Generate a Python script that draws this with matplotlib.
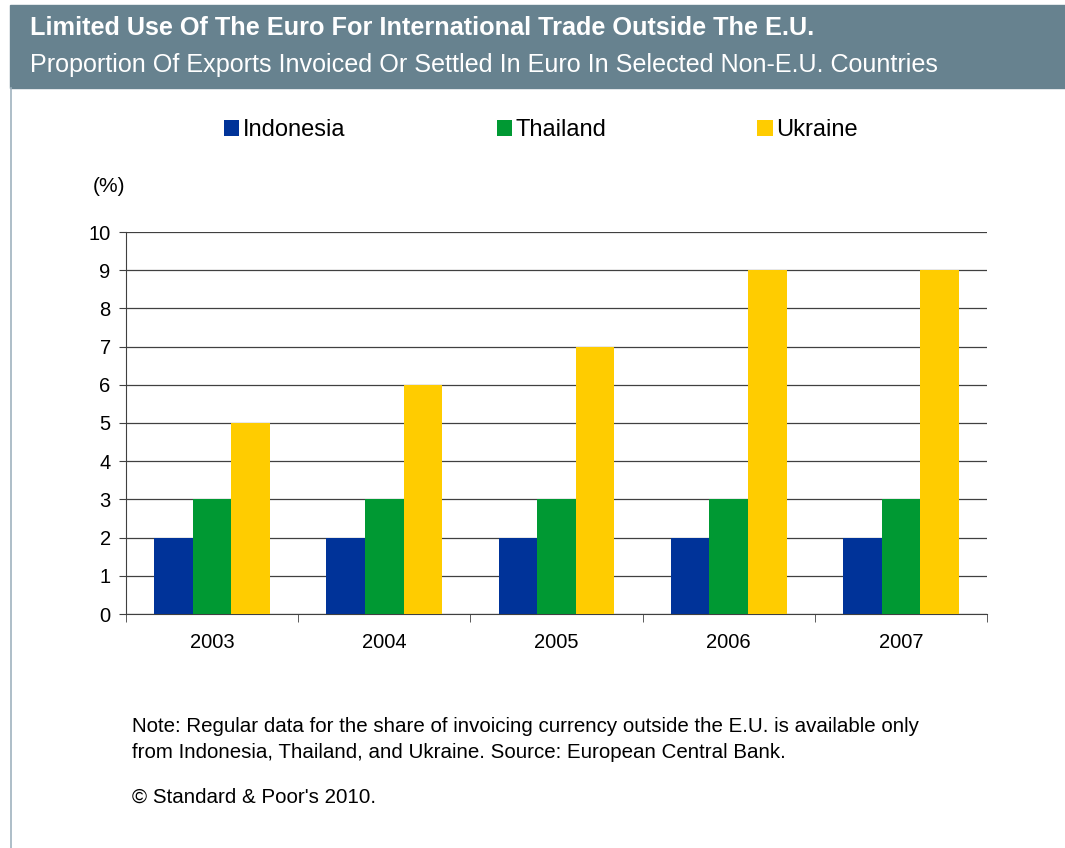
import numpy as np
import matplotlib.pyplot as plt
from matplotlib.patches import Rectangle
from matplotlib.lines import Line2D

plt.rcParams['font.family'] = ['Liberation Sans', 'DejaVu Sans']

years = ['2003', '2004', '2005', '2006', '2007']
series = ['Indonesia', 'Thailand', 'Ukraine']
indonesia = [2, 2, 2, 2, 2]
thailand = [3, 3, 3, 3, 3]
ukraine = [5, 6, 7, 9, 9]
colors = ['#003399', '#009933', '#FFCC00']

fig = plt.figure(figsize=(10.65, 8.48), dpi=100)
W, H = 1065, 848

# header band and frame line
fig.patches.append(Rectangle((10 / W, 1 - 88 / H), 1 - 10 / W, 83 / H,
                             transform=fig.transFigure, color='#67828F', zorder=0))
fig.add_artist(Line2D([10.5 / W, 10.5 / W], [0, 1 - 88 / H], transform=fig.transFigure,
                      color='#9FB3BF', lw=1.2))
fig.text(30 / W, 1 - 28 / H, 'Limited Use Of The Euro For International Trade Outside The E.U.',
         color='white', fontsize=18.2, fontweight='bold', va='center', ha='left')
fig.text(30 / W, 1 - 65 / H, 'Proportion Of Exports Invoiced Or Settled In Euro In Selected Non-E.U. Countries',
         color='white', fontsize=18.1, va='center', ha='left')

ax = fig.add_axes([126 / W, 1 - 614 / H, 861 / W, 382 / H])
x = np.arange(len(years))
bw = 0.224
bars = []
for i, (vals, c, name) in enumerate(zip([indonesia, thailand, ukraine], colors, series)):
    b = ax.bar(x + (i - 1) * bw, vals, bw, color=c, label=name, zorder=3)
    bars.append(b)

ax.set_xlim(-0.5, len(years) - 0.5)
ax.set_ylim(0, 10)
ax.set_yticks(range(0, 11))
ax.yaxis.grid(True, color='#404040', lw=0.9, zorder=0)
ax.set_xticks(x)
ax.set_xticklabels(years)
ax.set_xticks(np.arange(-0.5, len(years)), minor=True)
ax.tick_params(axis='x', which='major', length=0, pad=14, labelsize=14.5)
ax.tick_params(axis='x', which='minor', length=6, color='#404040', direction='out')
ax.tick_params(axis='y', length=5, color='#404040', labelsize=14.5, pad=6)
for s in ['top', 'right']:
    ax.spines[s].set_visible(False)
for s in ['left', 'bottom']:
    ax.spines[s].set_color('#404040')

fig.text(93 / W, 1 - 187 / H, '(%)', fontsize=15, va='center', ha='left')

fig.legend(handles=bars, labels=series, loc='center', bbox_to_anchor=(541 / W, 1 - 130 / H),
           ncol=3, frameon=False, fontsize=17, handlelength=0.65, handleheight=0.65,
           handletextpad=0.15, columnspacing=6.4)

fig.text(132 / W, 1 - 727 / H,
         'Note: Regular data for the share of invoicing currency outside the E.U. is available only',
         fontsize=14.8, va='center', ha='left')
fig.text(132 / W, 1 - 753 / H,
         'from Indonesia, Thailand, and Ukraine. Source: European Central Bank.',
         fontsize=14.8, va='center', ha='left')
fig.text(132 / W, 1 - 797 / H, '\u00a9 Standard & Poor\'s 2010.',
         fontsize=14.8, va='center', ha='left')

fig.savefig('out.png', dpi=100)
